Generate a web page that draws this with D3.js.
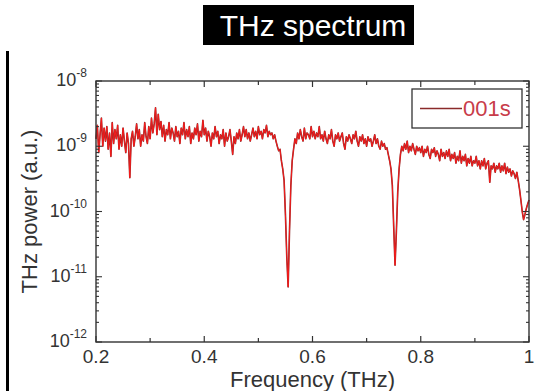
<!DOCTYPE html>
<html>
<head>
<meta charset="utf-8">
<script src="https://cdn.jsdelivr.net/npm/d3@7"></script>
<style>
  body { margin: 0; background: #fff; }
  svg { display: block; font-family: Arial, "Liberation Sans", sans-serif; }
</style>
</head>
<body>
<div id="chart"></div>
<script>
// THz spectrum of sample "001s", sampled every 0.0025 THz from 0.2 to 1.0
const fStart = 0.2, fStep = 0.0025, fCount = 321;
// power in units of 1e-9 a.u., one row = 0.025 THz
const power = [
  1.3, 2.1, 0.8, 1.5, 2.7, 1.0, 1.9, 1.2, 2.0, 0.9,
  1.6, 0.7, 2.3, 1.1, 1.8, 1.3, 2.1, 0.9, 1.5, 1.0,
  1.9, 1.2, 0.8, 1.6, 1.1, 0.33, 1.3, 1.7, 1.0, 1.4,
  2.2, 1.3, 1.8, 1.0, 1.5, 1.2, 2.3, 1.4, 1.1, 2.0,
  1.3, 2.7, 1.6, 2.2, 3.9, 1.5, 3.1, 1.8, 2.4, 1.4,
  2.1, 1.2, 1.8, 1.5, 2.3, 1.3, 1.9, 1.6, 1.2, 2.0,
  1.4, 1.7, 1.1, 1.9, 1.5, 2.3, 1.3, 1.8, 1.4, 2.0,
  1.1, 1.6, 1.3, 1.9, 1.5, 2.2, 1.2, 1.7, 1.4, 2.5,
  1.5, 1.9, 1.2, 1.7, 1.4, 1.0, 1.6, 1.3, 2.0, 1.4,
  1.7, 1.1, 1.5, 1.3, 1.8, 1.0, 1.6, 1.2, 1.4, 1.8,
  1.2, 0.75, 1.4, 1.1, 1.6, 1.3, 1.8, 1.2, 1.5, 2.0,
  1.4, 1.8, 1.3, 1.6, 1.2, 1.5, 1.9, 1.4, 1.7, 1.3,
  2.0, 1.5, 1.7, 1.3, 1.8, 1.6, 2.1, 1.4, 1.7, 1.5,
  1.6, 1.3, 1.5, 1.2, 1.0, 0.85, 0.9, 0.6, 0.45, 0.3,
  0.09, 0.02, 0.007, 0.05, 0.25, 0.6, 0.9, 1.3, 1.1, 1.6,
  1.3, 1.8, 1.4, 1.2, 1.9, 1.3, 1.6, 1.5, 1.3, 2.0,
  1.4, 1.7, 1.3, 1.6, 1.4, 2.0, 1.3, 1.5, 1.2, 1.7,
  1.3, 1.1, 1.5, 1.3, 1.8, 1.2, 1.0, 1.5, 1.3, 1.6,
  1.2, 1.4, 1.6, 1.1, 0.9, 1.4, 1.2, 1.5, 1.3, 1.1,
  1.5, 1.3, 1.7, 1.2, 1.0, 1.4, 1.2, 1.5, 1.1, 1.3,
  1.0, 1.4, 1.2, 1.3, 1.0, 1.2, 1.5, 1.1, 1.3, 1.0,
  0.9, 1.2, 1.0, 1.1, 0.9, 0.95, 0.75, 0.6, 0.45, 0.25,
  0.06, 0.015, 0.05, 0.2, 0.45, 0.75, 1.0, 0.85, 1.1, 0.9,
  1.2, 0.8, 1.0, 0.85, 1.1, 0.9, 0.75, 1.0, 0.85, 0.95,
  0.8, 1.0, 0.7, 0.9, 0.8, 1.0, 0.75, 0.65, 0.9, 0.8,
  0.95, 0.7, 0.85, 0.75, 0.6, 0.9, 0.7, 0.8, 0.65, 0.85,
  0.7, 0.9, 0.6, 0.75, 0.65, 0.8, 0.55, 0.7, 0.6, 0.85,
  0.55, 0.7, 0.6, 0.75, 0.5, 0.65, 0.55, 0.7, 0.5, 0.6,
  0.55, 0.7, 0.5, 0.6, 0.45, 0.6, 0.5, 0.65, 0.45, 0.55,
  0.6, 0.28, 0.5, 0.45, 0.55, 0.4, 0.5, 0.45, 0.55, 0.4,
  0.5, 0.42, 0.55, 0.38, 0.48, 0.4, 0.45, 0.35, 0.42, 0.38,
  0.32, 0.4, 0.3, 0.22, 0.15, 0.1, 0.075, 0.09, 0.11, 0.13,
  0.15
];
const unit = 1e-9;

const xTicks = [0.2, 0.4, 0.6, 0.8, 1.0];
const xMinor = [0.3, 0.5, 0.7, 0.9];
const yExponents = [-8, -9, -10, -11, -12];
const seriesName = "001s";

const W = 537, H = 391;
const margin = { top: 81, right: 8, bottom: 49, left: 96 };
const width = W - margin.left - margin.right;
const height = H - margin.top - margin.bottom;

const svg = d3.select("#chart").append("svg")
  .attr("width", W)
  .attr("height", H);

// black strip on the left edge
svg.append("rect")
  .attr("x", 6).attr("y", 51)
  .attr("width", 3).attr("height", H - 51)
  .attr("fill", "#000");

// title badge
svg.append("rect")
  .attr("x", 203).attr("y", 5)
  .attr("width", 211).attr("height", 40)
  .attr("fill", "#000");
svg.append("text")
  .attr("x", 313).attr("y", 36)
  .attr("text-anchor", "middle")
  .attr("fill", "#fff")
  .attr("font-size", 30)
  .text("THz spectrum");

const g = svg.append("g")
  .attr("transform", `translate(${margin.left},${margin.top})`);

const x = d3.scaleLinear().domain([0.2, 1.0]).range([0, width]);
const y = d3.scaleLog().domain([1e-12, 1e-8]).range([height, 0]);

const data = power.slice(0, fCount).map((p, i) => ({ f: fStart + i * fStep, p: p * unit }));

// curve
const line = d3.line()
  .x(d => x(d.f))
  .y(d => y(d.p));

g.append("path")
  .datum(data)
  .attr("fill", "none")
  .attr("stroke", "#8a2a2a")
  .attr("stroke-width", 1.6)
  .attr("stroke-linejoin", "round")
  .attr("d", line);

g.append("path")
  .datum(data)
  .attr("fill", "none")
  .attr("stroke", "#ff1a1a")
  .attr("stroke-width", 0.9)
  .attr("stroke-linejoin", "round")
  .attr("d", line);

// frame
g.append("rect")
  .attr("width", width).attr("height", height)
  .attr("fill", "none")
  .attr("stroke", "#333")
  .attr("stroke-width", 1.4);

// x ticks (inward, bottom and top)
const tickCol = "#333";
function xTick(v, len) {
  g.append("line").attr("x1", x(v)).attr("x2", x(v))
    .attr("y1", height).attr("y2", height - len)
    .attr("stroke", tickCol).attr("stroke-width", 1.2);
  g.append("line").attr("x1", x(v)).attr("x2", x(v))
    .attr("y1", 0).attr("y2", len)
    .attr("stroke", tickCol).attr("stroke-width", 1.2);
}
xTicks.forEach(v => xTick(v, 6));
xMinor.forEach(v => xTick(v, 4));

g.selectAll(".xlab")
  .data(xTicks)
  .join("text")
  .attr("class", "xlab")
  .attr("x", d => x(d))
  .attr("y", height + 21)
  .attr("text-anchor", "middle")
  .attr("font-size", 19)
  .attr("fill", "#333")
  .text(d => d === 1 ? "1" : d3.format(".1f")(d));

// y ticks (log, inward, left and right)
function yTick(v, len) {
  g.append("line").attr("x1", 0).attr("x2", len)
    .attr("y1", y(v)).attr("y2", y(v))
    .attr("stroke", tickCol).attr("stroke-width", 1.1);
  g.append("line").attr("x1", width).attr("x2", width - len)
    .attr("y1", y(v)).attr("y2", y(v))
    .attr("stroke", tickCol).attr("stroke-width", 1.1);
}
yExponents.forEach(e => yTick(Math.pow(10, e), 6));
yExponents.slice(1).forEach(e => {
  for (let k = 2; k <= 9; k++) yTick(k * Math.pow(10, e), 3);
});

const ylab = g.selectAll(".ylab")
  .data(yExponents)
  .join("text")
  .attr("class", "ylab")
  .attr("x", -9)
  .attr("y", d => y(Math.pow(10, d)) + 5)
  .attr("text-anchor", "end")
  .attr("fill", "#333")
  .attr("font-size", 18);
ylab.append("tspan").text("10");
ylab.append("tspan")
  .attr("dy", -9)
  .attr("font-size", 12)
  .text(d => "-" + Math.abs(d));

// axis titles
svg.append("text")
  .attr("x", margin.left + width / 2)
  .attr("y", 387)
  .attr("text-anchor", "middle")
  .attr("font-size", 22)
  .attr("fill", "#333")
  .text("Frequency (THz)");

svg.append("text")
  .attr("transform", `translate(37,${margin.top + height / 2}) rotate(-90)`)
  .attr("text-anchor", "middle")
  .attr("font-size", 22)
  .attr("fill", "#333")
  .text("THz power (a.u.)");

// legend
const lg = svg.append("g").attr("transform", "translate(412,89)");
lg.append("rect")
  .attr("width", 110).attr("height", 39)
  .attr("fill", "#fff")
  .attr("stroke", "#333")
  .attr("stroke-width", 1.3);
lg.append("line")
  .attr("x1", 8).attr("x2", 50)
  .attr("y1", 19.5).attr("y2", 19.5)
  .attr("stroke", "#8a2a2a")
  .attr("stroke-width", 1.4);
lg.append("text")
  .attr("x", 51).attr("y", 27)
  .attr("font-size", 22)
  .attr("fill", "#c83c4a")
  .text(seriesName);
</script>
</body>
</html>
